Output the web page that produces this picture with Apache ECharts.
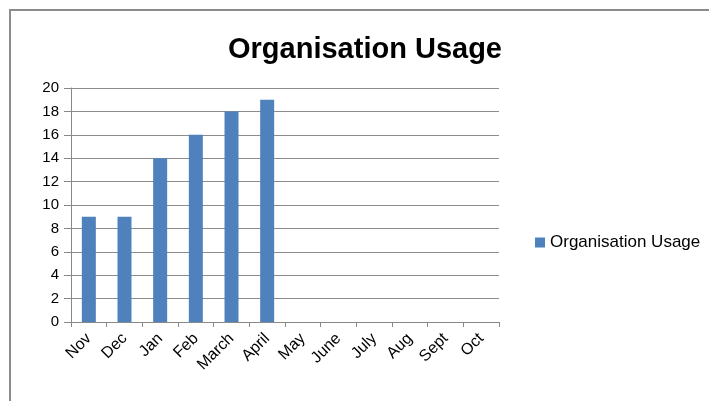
<!DOCTYPE html>
<html>
<head>
<meta charset="utf-8">
<script src="https://cdn.jsdelivr.net/npm/echarts@6/dist/echarts.min.js"></script>
<style>
  html, body { margin: 0; padding: 0; background: #fff; }
  #chart { width: 709px; height: 401px; }
</style>
</head>
<body>
<div id="chart"></div>
<script>
var months = ['Nov', 'Dec', 'Jan', 'Feb', 'March', 'April', 'May', 'June', 'July', 'Aug', 'Sept', 'Oct'];
var usage = [9, 9, 14, 16, 18, 19, null, null, null, null, null, null];
var seriesName = 'Organisation Usage';

var myChart = echarts.init(document.getElementById('chart'));
var option = {
    animation: false,
    title: {
        text: 'Organisation Usage',
        left: 360,
        textAlign: 'center',
        top: 30,
        textStyle: { fontFamily: 'Liberation Sans', fontWeight: 'bold', fontSize: 29, color: '#000' }
    },
    // outer frame, like the chart border
    graphic: [{
        type: 'rect',
        shape: { x: 10, y: 10, width: 760, height: 420 },
        style: { fill: 'none', stroke: '#8c8c8c', lineWidth: 2 },
        silent: true
    }],
    legend: {
        data: [seriesName],
        orient: 'vertical',
        left: 530,
        top: 229,
        icon: 'rect',
        itemWidth: 10,
        itemHeight: 10,
        itemGap: 6,
        textStyle: { fontFamily: 'Liberation Sans', fontSize: 17, color: '#000' }
    },
    grid: { left: 71, right: 210, top: 88, bottom: 79 },
    xAxis: {
        type: 'category',
        data: months,
        axisLine: { lineStyle: { color: '#888' } },
        axisTick: { show: true, length: 5, lineStyle: { color: '#888' } },
        axisLabel: { rotate: 45, interval: 0, fontFamily: 'Liberation Sans', fontSize: 16, color: '#000', margin: 14, padding: [0, 0, 0, 0] }
    },
    yAxis: {
        type: 'value',
        min: 0,
        max: 20,
        interval: 2,
        axisLine: { show: true, lineStyle: { color: '#888' } },
        axisTick: { show: true, length: 7, lineStyle: { color: '#888' } },
        axisLabel: { fontFamily: 'Liberation Sans', fontSize: 15, color: '#000', margin: 12 },
        splitLine: { lineStyle: { color: '#8c8c8c' } }
    },
    series: [{
        name: seriesName,
        type: 'bar',
        data: usage,
        barWidth: 14,
        itemStyle: { color: '#4f81bd' }
    }]
};
myChart.setOption(option);
</script>
</body>
</html>
